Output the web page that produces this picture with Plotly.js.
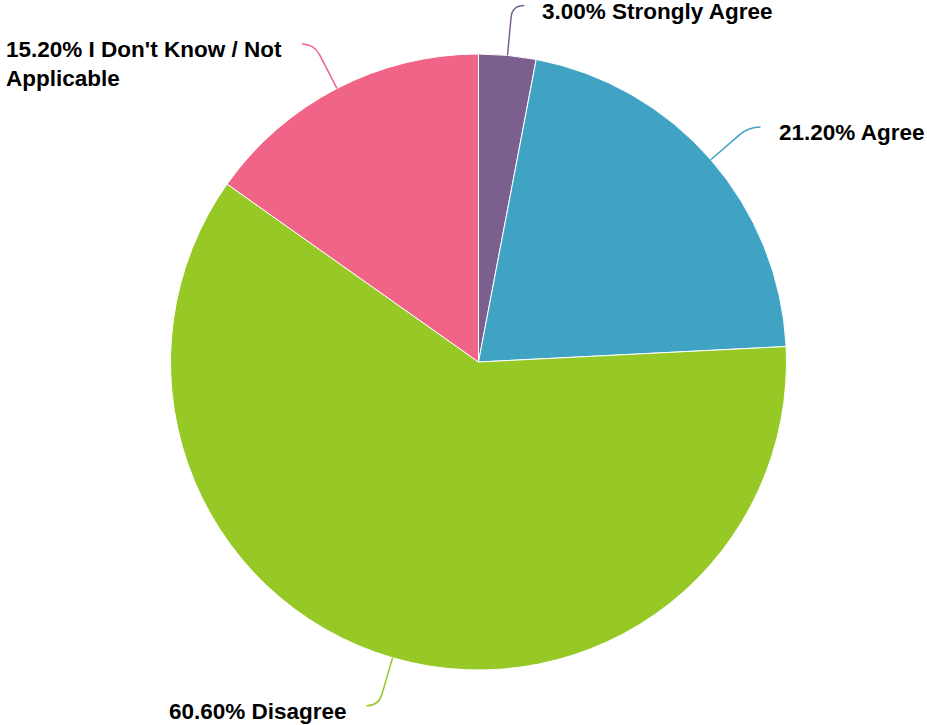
<!DOCTYPE html>
<html>
<head>
<meta charset="utf-8">
<script src="https://cdn.plot.ly/plotly-3.0.1.min.js"></script>
<style>html,body{margin:0;padding:0;background:#fff;}#chart{width:927px;height:725px;}</style>
</head>
<body>
<div id="chart"></div>
<script>
const categories = ["Strongly Agree", "Agree", "Disagree", "I Don't Know / Not Applicable"];
const values = [3.0, 21.2, 60.6, 15.2];
const colors = ["#7b5f8f", "#40a3c3", "#96c925", "#ef6487"];

const W = 927, H = 725;
const cx = 478.5, cy = 362, R = 308;

function wrap(s, n) {
  const words = s.split(' ');
  const lines = []; let cur = '';
  words.forEach(w => {
    if ((cur + ' ' + w).trim().length > n && cur) { lines.push(cur); cur = w; }
    else cur = (cur + ' ' + w).trim();
  });
  if (cur) lines.push(cur);
  return lines.join('<br>');
}

const total = values.reduce((a, b) => a + b, 0);
const shapes = [], annotations = [];
let cum = 0;
const px = x => x / W, py = y => 1 - y / H;
values.forEach((v, i) => {
  const mid = (cum + v / 2) / total * 2 * Math.PI;
  cum += v;
  const pt = r => [cx + r * Math.sin(mid), cy - r * Math.cos(mid)];
  const right = Math.sin(mid) >= 0;
  const a = pt(R), b = pt(R + 38), c = pt(R + 50);
  const e = [c[0] + (right ? 12 : -12), c[1]];
  shapes.push({
    type: 'path', xref: 'paper', yref: 'paper',
    path: `M ${px(a[0])} ${py(a[1])} L ${px(b[0])} ${py(b[1])} Q ${px(c[0])} ${py(c[1])} ${px(e[0])} ${py(e[1])}`,
    line: {color: colors[i], width: 1.5}
  });
  const text = wrap(v.toFixed(2) + '% ' + categories[i], 28);
  const multi = text.indexOf('<br>') >= 0;
  annotations.push({
    xref: 'paper', yref: 'paper', showarrow: false,
    x: px(e[0] + (right ? 16 : -18)),
    y: multi ? py(e[1] - 9) : py(e[1] + 6),
    xanchor: right ? 'left' : 'right',
    yanchor: multi ? 'top' : 'middle',
    align: 'left',
    text: '<b>' + text + '</b>',
    font: {family: 'Liberation Sans, Arial, sans-serif', size: 22.5, color: '#000'}
  });
});

const trace = {
  type: 'pie',
  labels: categories,
  values: values,
  sort: false,
  direction: 'clockwise',
  rotation: 0,
  textinfo: 'none',
  hoverinfo: 'label+percent',
  marker: {colors: colors, line: {color: '#ffffff', width: 1}},
  domain: {x: [(cx - R) / W, (cx + R) / W], y: [1 - (cy + R) / H, 1 - (cy - R) / H]},
  showlegend: false
};

Plotly.newPlot('chart', [trace], {
  width: W, height: H,
  margin: {l: 0, r: 0, t: 0, b: 0},
  paper_bgcolor: '#fff',
  showlegend: false,
  shapes: shapes,
  annotations: annotations
}, {displayModeBar: false, staticPlot: true});
</script>
</body>
</html>
